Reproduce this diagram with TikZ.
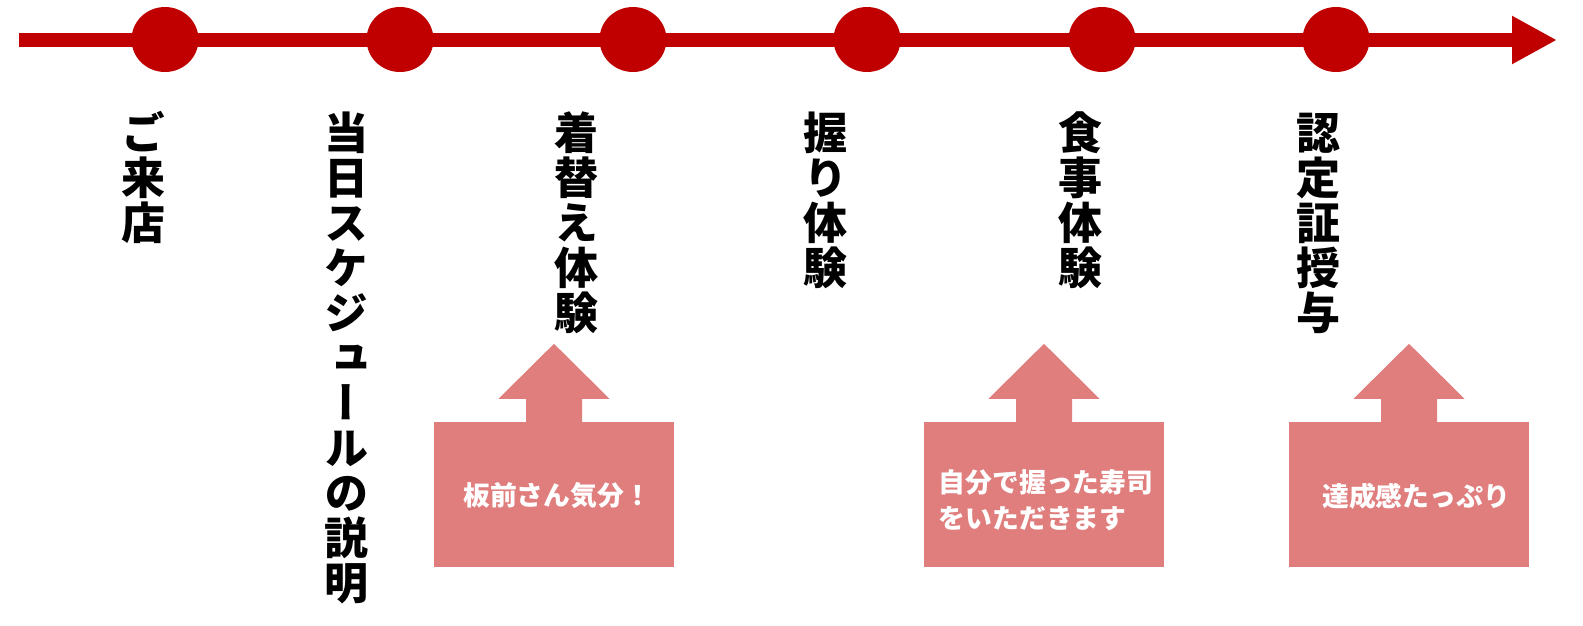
\documentclass[tikz,border=0pt]{standalone}
\usepackage{fontspec}
\newfontfamily\jpv[RawFeature=+vert]{Noto Sans CJK JP}
\newfontfamily\jp{Noto Sans CJK JP}
\usetikzlibrary{shapes.geometric,arrows.meta}
\definecolor{tlred}{RGB}{192,0,0}
\definecolor{boxpink}{RGB}{224,126,126}
\newcommand\vlabel[3]{%
  \foreach \ch [count=\i] in {#3} {%
    \node[vchar] (#1-\i) at (#2,{133+(\i-1)*45}) {\ch};%
  }%
}
\tikzset{
  tl/.style={draw=tlred, line width=14.5pt, line cap=butt},
  dot/.style={ellipse, fill=tlred, minimum width=67pt, minimum height=65pt, inner sep=0},
  vchar/.style={font=\jpv\bfseries\fontsize{44}{44}\selectfont, inner sep=0,
    text height=38.7pt, text depth=5.3pt, text=black},
  pbox/.style={rectangle, fill=boxpink, minimum width=240pt, minimum height=145pt, inner sep=0},
  ptext/.style={font=\jp\bfseries\fontsize{26.8}{36}\selectfont, text=white, inner sep=0, align=left},
}
\begin{document}
\begin{tikzpicture}[x=1pt,y=-1pt]
\useasboundingbox[fill=white] (0,0) rectangle (1583,625);
% timeline
\coordinate (start) at (19,40);
\coordinate (tip) at (1557,40);
\draw[tl, -{Triangle[length=45pt,width=45pt]}] (start) -- (tip);
\foreach \x [count=\k] in {165,400,633,867,1102,1336}
  \node[dot] (d\k) at (\x,39.5) {};
% vertical labels
\vlabel{l1}{143}{ご,来,店}
\vlabel{l2}{346}{当,日,ス,ケ,ジ,ュ,ー,ル,の,説,明}
\vlabel{l3}{576}{着,替,え,体,験}
\vlabel{l4}{825}{握,り,体,験}
\vlabel{l5}{1080}{食,事,体,験}
\vlabel{l6}{1318}{認,定,証,授,与}
% boxes with up arrows
\foreach \cx [count=\k] in {554,1044,1409} {
  \node[pbox] (b\k) at (\cx,494.5) {};
  \fill[boxpink] (b\k.north) ++(-28,1) -- ++(0,-24) -- ++(-27.5,0) -- ++(55.5,-55)
    -- ++(55.5,55) -- ++(-27.5,0) -- ++(0,24) -- cycle;
}
\node[ptext] (t1) at (557,495) {板前さん気分！};
\node[ptext] (t2) at (1046,500) {自分で握った寿司\\をいただきます};
\node[ptext] (t3) at (1416,496) {達成感たっぷり};
\end{tikzpicture}
\end{document}
